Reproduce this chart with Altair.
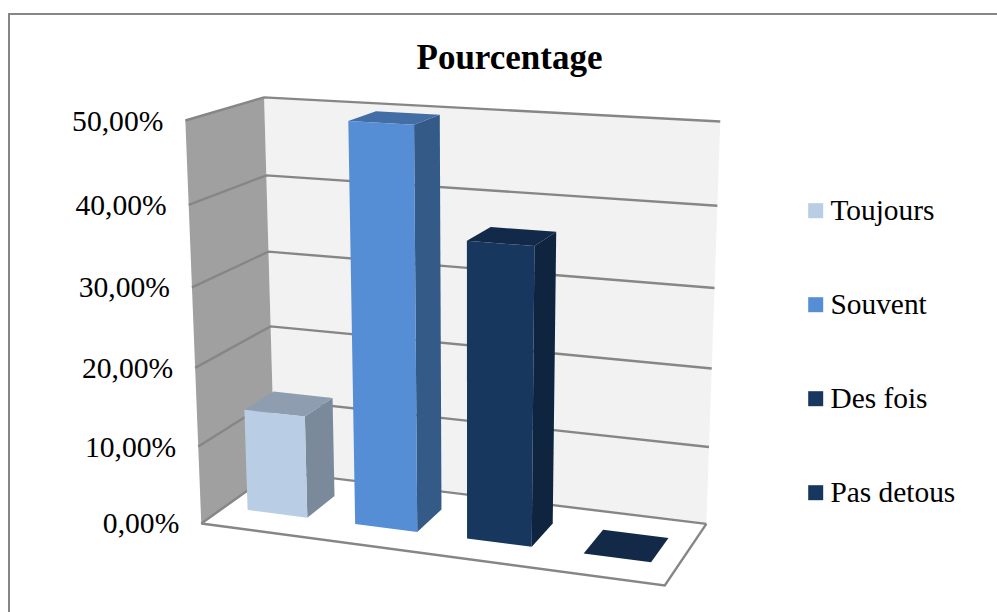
import altair as alt
import numpy as np

# Survey answers and their shares (percent)
categories = ["Toujours", "Souvent", "Des fois", "Pas detous"]
shares = [13.2, 50.0, 36.8, 0.0]
front_colors = ["#b9cde5", "#558ed5", "#17375e", "#17375e"]
side_colors = ["#7b8a9b", "#345a88", "#0f243e", "#0f243e"]
top_colors = ["#8e9db0", "#426da5", "#12294a", "#122a48"]
axis_ticks = [0, 10, 20, 30, 40, 50]
axis_labels = ["0,00%", "10,00%", "20,00%", "30,00%", "40,00%", "50,00%"]

# Camera calibration: (across, value, depth) -> screen position of the box corners
left_front = [(201, 523), (197.5, 447), (195, 368), (192, 288), (189, 205), (186, 120)]
left_back = [(275, 470), (273, 400), (271, 327), (268, 252), (266, 175), (264, 97)]
right_back = [(706, 524), (709, 448), (712, 368), (715, 288), (718, 205), (719, 122)]
right_front_floor = (665, 585)

world, screen = [], []
for i, v in enumerate(axis_ticks):
    world += [(0, v, 0), (0, v, 1), (1, v, 1)]
    screen += [left_front[i], left_back[i], right_back[i]]
world.append((1, 0, 0))
screen.append(right_front_floor)

rows, rhs = [], []
for (u, v, d), (sx, sy) in zip(world, screen):
    rows.append([u, v, d, 1, 0, 0, 0, 0, -sx * u, -sx * v, -sx * d])
    rhs.append(sx)
    rows.append([0, 0, 0, 0, u, v, d, 1, -sy * u, -sy * v, -sy * d])
    rhs.append(sy)
sol = np.linalg.lstsq(np.array(rows, float), np.array(rhs, float), rcond=None)[0]
camera = np.append(sol, 1.0).reshape(3, 4)


def project(u, v, d):
    p = camera @ np.array([u, v, d, 1.0])
    return [float(p[0] / p[2]), float(p[1] / p[2])]


def polygon(points, **props):
    ring = [project(*p) for p in points]
    ring.append(ring[0])
    return {"type": "Feature", "properties": props,
            "geometry": {"type": "Polygon", "coordinates": [ring]}}


def polyline(points, **props):
    return {"type": "Feature", "properties": props,
            "geometry": {"type": "LineString", "coordinates": [project(*p) for p in points]}}


# Chart box walls
panels = [
    polygon([(0, 0, 1), (1, 0, 1), (1, 50, 1), (0, 50, 1)], fill="#f2f2f2"),
    polygon([(0, 0, 0), (0, 0, 1), (0, 50, 1), (0, 50, 0)], fill="#a0a0a0"),
]
grid = []
for v in axis_ticks:
    grid.append(polyline([(0, v, 0), (0, v, 1), (1, v, 1)]))
grid.append(polyline([(1, 0, 1), (1, 0, 0), (0, 0, 0)]))

# Bar geometry in box units
slot = 1 / len(categories)
bar_half = slot * 0.28
depth_front, depth_back = 0.30, 0.70

shades, fronts = [], []
for i, (name, share) in enumerate(zip(categories, shares)):
    u0 = slot * (i + 0.5) - bar_half
    u1 = slot * (i + 0.5) + bar_half
    d0, d1 = depth_front, depth_back
    if share > 0:
        shades.append(polygon([(u1, 0, d0), (u1, 0, d1), (u1, share, d1), (u1, share, d0)],
                              fill=side_colors[i]))
        fronts.append(polygon([(u0, 0, d0), (u1, 0, d0), (u1, share, d0), (u0, share, d0)],
                              name=name))
    shades.append(polygon([(u0, share, d0), (u1, share, d0), (u1, share, d1), (u0, share, d1)],
                          fill=top_colors[i]))

# Value labels sit left of the front wall edge
label_rows = []
for v, text in zip(axis_ticks, axis_labels):
    x, y = project(0, v, 0)
    label_rows.append({"lon": x, "lat": y, "text": text})

# Outer border of the chart area: left and top edges reach the page
frame_rows = [
    {"type": "Feature", "properties": {},
     "geometry": {"type": "LineString",
                  "coordinates": [[9, 640], [9, 14], [1010, 14]]}}
]

projection = alt.Projection(type="identity", scale=1, translate=[0, 0])
GRID = "#868686"
SERIF = "Liberation Serif"

frame = alt.Chart(alt.Data(values=frame_rows)).mark_geoshape(
    filled=False, stroke=GRID, strokeWidth=2)
walls = alt.Chart(alt.Data(values=panels)).mark_geoshape(stroke=None).encode(
    fill=alt.Fill("properties.fill:N", scale=None, legend=None))
lines = alt.Chart(alt.Data(values=grid)).mark_geoshape(
    filled=False, stroke=GRID, strokeWidth=2.4, strokeJoin="miter")
shade = alt.Chart(alt.Data(values=shades)).mark_geoshape(stroke=None).encode(
    fill=alt.Fill("properties.fill:N", scale=None, legend=None))
face = alt.Chart(alt.Data(values=fronts)).mark_geoshape(stroke=None).encode(
    fill=alt.Fill(
        "properties.name:N",
        scale=alt.Scale(domain=categories, range=front_colors),
        legend=alt.Legend(
            title=None, orient="none", legendX=801, legendY=196,
            symbolType="square", symbolSize=225, symbolStrokeWidth=0,
            symbolOpacity=1, labelFont=SERIF, labelFontSize=29.4,
            labelColor="black", labelOffset=0, rowPadding=63,
            labelLimit=200,
        ),
    ))
ticks_text = alt.Chart(alt.Data(values=label_rows)).mark_text(
    font=SERIF, fontSize=29.6, align="right", baseline="middle", dx=-22, dy=1, color="black"
).encode(longitude="lon:Q", latitude="lat:Q", text="text:N")

chart = alt.layer(frame, walls, lines, shade, face, ticks_text).resolve_scale(
    fill="independent"
).properties(
    width=997, height=612, padding=0, autosize=alt.AutoSizeParams(type="none"),
    projection=projection,
    title=alt.TitleParams("Pourcentage", font=SERIF, fontSize=35, fontWeight="bold",
                          color="black", anchor="middle", dx=11, dy=76, offset=0),
).configure_view(stroke=None).configure(background="white")

chart.save("out.html", embed_options={"renderer": "svg", "actions": False})
